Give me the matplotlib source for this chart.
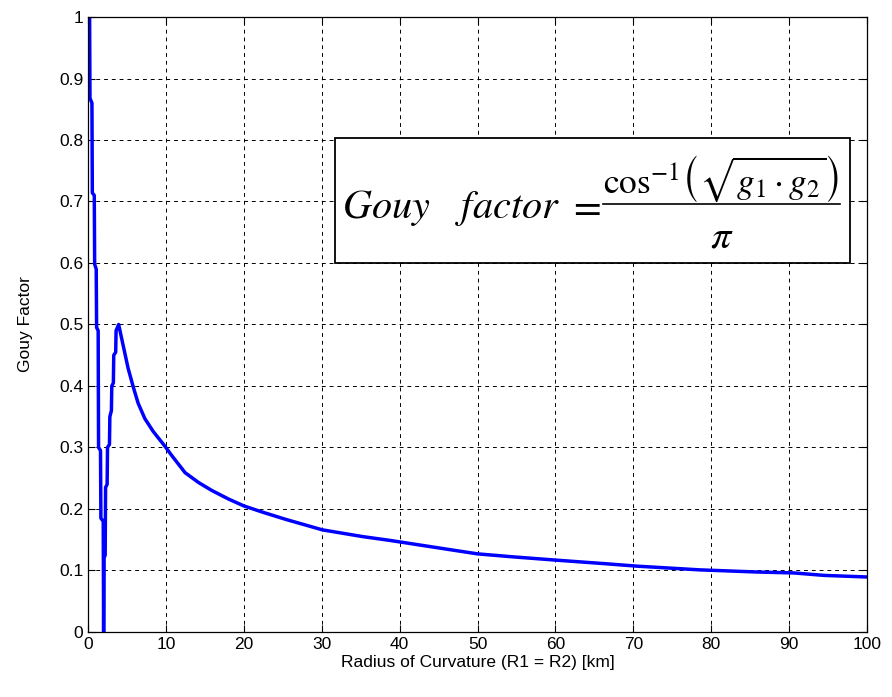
import matplotlib.pyplot as plt
from matplotlib.patches import Rectangle

plt.rcParams['font.family'] = ['Liberation Sans', 'DejaVu Sans']
plt.rcParams['mathtext.fontset'] = 'stix'

# values
radius = [0.2, 0.25, 0.5, 0.55, 0.8, 0.85, 1.05, 1.1, 1.3, 1.35, 1.6, 1.65, 1.95,
          2.0, 2.05, 2.2, 2.25, 2.45, 2.5, 2.75, 2.8, 3.0, 3.05, 3.25, 3.3, 3.55, 3.6,
          3.93, 4.49, 5.14, 5.79, 6.43, 7.29, 8.37, 9.87, 10.74, 12.46, 14.19, 15.9,
          18.06, 20.0, 22.36, 25.4, 30.1, 35.3, 38.7, 46.9, 50.0, 54.7, 60.3, 66.4,
          70.5, 78.5, 85.9, 90.6, 94.5, 100.0]
gouy = [1.0, 0.868, 0.86, 0.714, 0.71, 0.598, 0.59, 0.495, 0.49, 0.30, 0.295, 0.185, 0.18,
        0.0, 0.12, 0.125, 0.235, 0.24, 0.30, 0.305, 0.35, 0.36, 0.40, 0.405, 0.45, 0.455, 0.49,
        0.5, 0.467, 0.429, 0.399, 0.372, 0.347, 0.326, 0.302, 0.287, 0.259, 0.243, 0.230,
        0.216, 0.205, 0.195, 0.183, 0.166, 0.155, 0.149, 0.133, 0.127, 0.122, 0.1166, 0.111,
        0.107, 0.101, 0.0975, 0.096, 0.092, 0.0894]

xticks = list(range(0, 101, 10))
yticks = [i / 10 for i in range(11)]
ytick_labels = ['0', '0.1', '0.2', '0.3', '0.4', '0.5', '0.6', '0.7', '0.8', '0.9', '1']

fig = plt.figure(figsize=(8.92, 6.97), dpi=100)
ax = fig.add_axes([0.0987, 0.0933, 0.8733, 0.8823])
ax.plot(radius, gouy, color='#0000ff', lw=2.5)

ax.set_xlim(0, 100)
ax.set_ylim(0, 1)
ax.set_xticks(xticks)
ax.set_yticks(yticks)
ax.set_yticklabels(ytick_labels)
ax.tick_params(direction='in', top=True, right=True, labelsize=12.5, length=5)
ax.grid(True, color='black', ls=(0, (4, 4)), lw=0.7)
for s in ax.spines.values():
    s.set_linewidth(0.9)

ax.set_xlabel('Radius of Curvature (R1 = R2) [km]', fontsize=12.5, labelpad=2)
ax.set_ylabel('Gouy Factor', fontsize=12.5, labelpad=19)

# formula box
tr = ax.transAxes
ax.add_patch(Rectangle((0.3171, 0.600), 0.6611, 0.2033, transform=tr,
                       fc='white', ec='black', lw=1.3, zorder=5))
fs = 29
ax.text(0.326, 0.673, r'$Gouy$', transform=tr, fontsize=fs, va='baseline', zorder=6)
ax.text(0.4711, 0.673, r'$factor$', transform=tr, fontsize=fs, va='baseline', zorder=6)
ax.text(0.6161, 0.673, r'$=$', transform=tr, fontsize=fs, va='baseline', zorder=6)
ax.text(0.8132, 0.7138, r'$\cos^{-1}\!\left(\sqrt{g_1 \cdot g_2}\right)$', transform=tr,
        fontsize=25.5, ha='center', va='baseline', zorder=6)
ax.plot([0.661, 0.9653], [0.696, 0.696], transform=tr, color='black', lw=1.2, zorder=6)
ax.text(0.8139, 0.6244, r'$\pi$', transform=tr, fontsize=fs, ha='center', va='baseline',
        zorder=6)

fig.savefig('out.png', dpi=100)
